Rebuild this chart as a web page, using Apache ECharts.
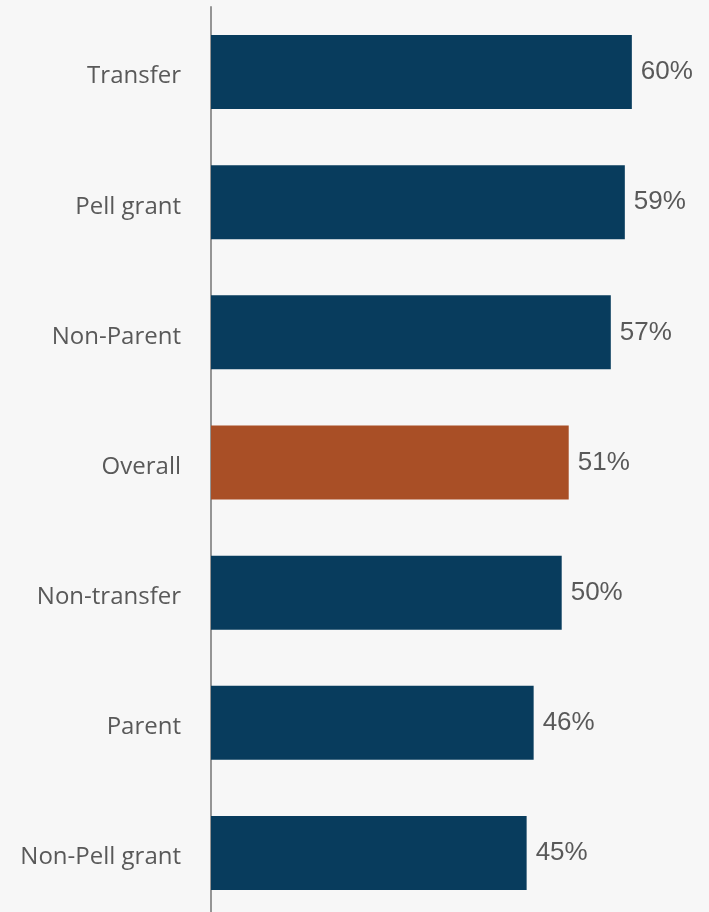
<!DOCTYPE html>
<html>
<head>
<meta charset="utf-8">
<script src="https://cdn.jsdelivr.net/npm/echarts@6/dist/echarts.min.js"></script>
<style>
  html, body { margin: 0; padding: 0; background: #f7f7f7; }
  #chart { width: 709px; height: 912px; }
</style>
</head>
<body>
<div id="chart"></div>
<script>
// Share of students by group (percent)
const categories = ['Transfer', 'Pell grant', 'Non-Parent', 'Overall', 'Non-transfer', 'Parent', 'Non-Pell grant'];
const values = [60, 59, 57, 51, 50, 46, 45];
const highlight = 'Overall';

const navy = '#083c5d';
const rust = '#a94f26';

const chart = echarts.init(document.getElementById('chart'));
chart.setOption({
  backgroundColor: '#f7f7f7',
  animation: false,
  grid: {
    left: 211, top: 7, width: 498, height: 911,
    containLabel: false,
    outerBoundsMode: 'none'
  },
  xAxis: {
    type: 'value',
    min: 0,
    max: 71,
    show: false
  },
  yAxis: {
    type: 'category',
    inverse: true,
    data: categories,
    axisLine: { show: true, lineStyle: { color: '#959595', width: 2 } },
    axisTick: { show: false },
    axisLabel: {
      margin: 30,
      color: '#595959',
      fontFamily: 'Open Sans',
      fontSize: 24,
      verticalAlign: 'top',
      lineHeight: 9
    }
  },
  series: [{
    type: 'bar',
    barWidth: 74,
    data: values.map((v, i) => ({
      value: v,
      itemStyle: { color: categories[i] === highlight ? rust : navy }
    })),
    label: {
      show: true,
      position: 'right',
      distance: 9,
      formatter: '{c}%',
      color: '#595959',
      fontFamily: 'Liberation Sans',
      fontSize: 26
    }
  }]
});
</script>
</body>
</html>
